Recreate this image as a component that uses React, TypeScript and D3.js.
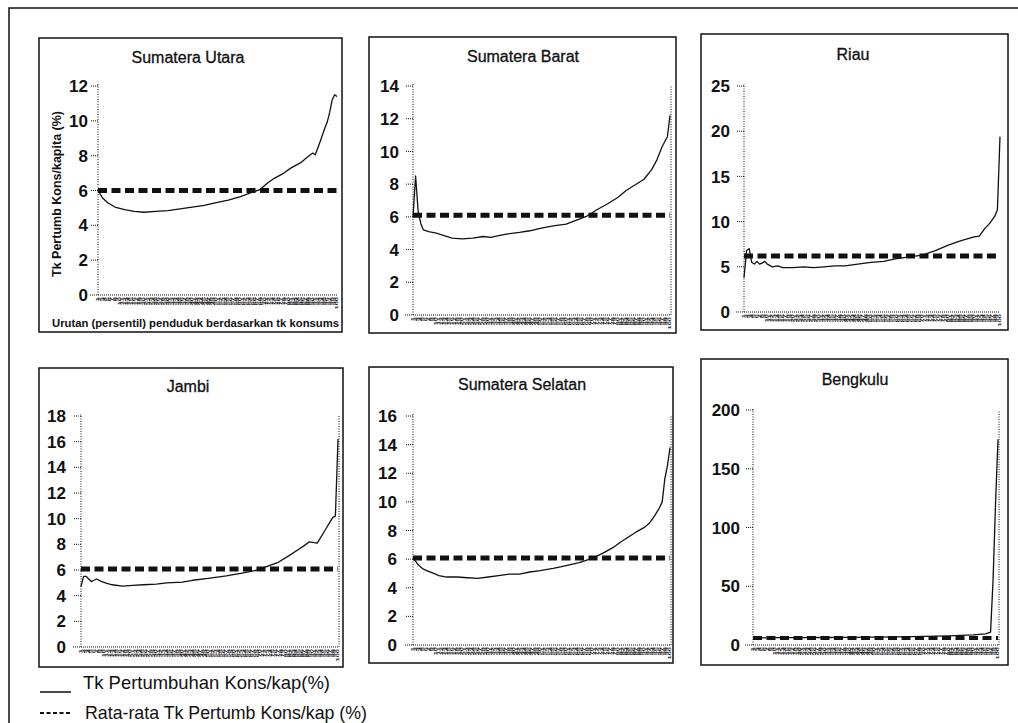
import React from "react"
import * as d3 from "d3"

// percentile categories on the x axis
const percentiles = d3.range(1, 101)

// Sumatera Utara
const sumutPct = [1, 3, 5, 8, 12, 16, 20, 25, 30, 35, 40, 45, 50, 55, 60, 65, 68, 71, 74, 78, 81, 85, 88, 90, 91, 93, 95, 96, 97, 98, 99, 100]
const sumutVal = [6.0, 5.55, 5.3, 5.05, 4.9, 4.8, 4.75, 4.8, 4.85, 4.95, 5.05, 5.15, 5.3, 5.45, 5.65, 5.9, 6.05, 6.4, 6.7, 7.0, 7.3, 7.6, 7.95, 8.15, 8.05, 8.8, 9.6, 9.95, 10.5, 11.2, 11.5, 11.4]
const sumutAvg = 6.0
const sumutTicks = [0, 2, 4, 6, 8, 10, 12]

// Sumatera Barat
const sumbarPct = [1, 2, 3, 4, 5, 7, 10, 13, 16, 20, 24, 28, 31, 34, 37, 42, 46, 50, 55, 60, 64, 68, 72, 76, 80, 83, 86, 90, 93, 95, 97, 99, 100]
const sumbarVal = [6.0, 8.5, 6.3, 5.6, 5.2, 5.1, 5.0, 4.85, 4.7, 4.65, 4.7, 4.8, 4.75, 4.85, 4.95, 5.05, 5.15, 5.3, 5.45, 5.55, 5.8, 6.05, 6.45, 6.8, 7.2, 7.6, 7.9, 8.3, 8.9, 9.5, 10.3, 10.9, 12.2]
const sumbarAvg = 6.1
const sumbarTicks = [0, 2, 4, 6, 8, 10, 12, 14]

// Riau
const riauPct = [1, 2, 3, 4, 5, 6, 7, 8, 9, 10, 12, 14, 16, 20, 24, 28, 32, 36, 40, 45, 50, 55, 60, 65, 70, 75, 80, 85, 90, 92, 94, 96, 98, 99, 100]
const riauVal = [3.8, 6.8, 7.0, 5.5, 5.3, 5.6, 5.3, 5.4, 5.6, 5.3, 5.0, 5.1, 4.9, 4.9, 5.0, 4.9, 5.0, 5.1, 5.1, 5.3, 5.5, 5.6, 5.9, 6.1, 6.3, 6.8, 7.4, 7.9, 8.3, 8.4, 9.2, 9.8, 10.6, 11.3, 19.4]
const riauAvg = 6.2
const riauTicks = [0, 5, 10, 15, 20, 25]

// Jambi
const jambiPct = [1, 2, 3, 4, 5, 6, 7, 9, 11, 13, 17, 21, 25, 30, 34, 40, 44, 50, 57, 63, 69, 73, 77, 81, 84, 87, 89, 92, 95, 98, 99, 100]
const jambiVal = [4.7, 5.5, 5.5, 5.3, 5.1, 5.2, 5.3, 5.1, 4.95, 4.85, 4.75, 4.8, 4.85, 4.9, 5.0, 5.05, 5.2, 5.35, 5.55, 5.75, 6.0, 6.3, 6.6, 7.1, 7.5, 7.9, 8.2, 8.1, 9.1, 10.1, 10.2, 16.2]
const jambiAvg = 6.08
const jambiTicks = [0, 2, 4, 6, 8, 10, 12, 14, 16, 18]

// Sumatera Selatan
const sumselPct = [1, 3, 5, 7, 9, 11, 14, 18, 22, 26, 30, 34, 38, 42, 46, 50, 55, 60, 65, 70, 74, 78, 81, 84, 87, 90, 92, 94, 96, 97, 98, 99, 100]
const sumselVal = [6.1, 5.6, 5.3, 5.15, 5.0, 4.85, 4.75, 4.75, 4.7, 4.65, 4.75, 4.85, 4.95, 4.95, 5.1, 5.2, 5.35, 5.55, 5.75, 6.05, 6.4, 6.8, 7.2, 7.55, 7.9, 8.2, 8.5, 9.0, 9.6, 10.0, 11.6, 12.5, 13.8]
const sumselAvg = 6.08
const sumselTicks = [0, 2, 4, 6, 8, 10, 12, 14, 16]

// Bengkulu
const bengkuluPct = [1, 10, 20, 30, 40, 50, 60, 70, 80, 90, 95, 97, 98, 99, 100]
const bengkuluVal = [6.0, 6.2, 6.3, 6.4, 6.5, 6.7, 7.0, 7.3, 7.8, 8.6, 9.5, 11, 55, 120, 175]
const bengkuluAvg = 6.0
const bengkuluTicks = [0, 50, 100, 150, 200]

const legendLabels = ["Tk Pertumbuhan Kons/kap(%)", "Rata-rata Tk Pertumb Kons/kap (%)"]

const font = "'Liberation Sans', Arial, Helvetica, sans-serif"
const ink = "#111"

type Panel = {
  title: string
  pct: number[]
  val: number[]
  avg: number
  ticks: number[]
  box: [number, number, number, number]
  plot: { x0: number; x1: number; yb: number; yt: number }
  titlePos: [number, number]
  gap: number
  rightRule: boolean
  dashW: number
}

const panels: Panel[] = [
  { title: "Sumatera Utara", pct: sumutPct, val: sumutVal, avg: sumutAvg, ticks: sumutTicks,
    box: [39, 38, 303, 294], plot: { x0: 98, x1: 337, yb: 295, yt: 86 }, titlePos: [188, 63], gap: 10, rightRule: false, dashW: 5 },
  { title: "Sumatera Barat", pct: sumbarPct, val: sumbarVal, avg: sumbarAvg, ticks: sumbarTicks,
    box: [369, 37, 307, 296], plot: { x0: 413, x1: 670, yb: 315, yt: 86 }, titlePos: [523, 62], gap: 14, rightRule: true, dashW: 5 },
  { title: "Riau", pct: riauPct, val: riauVal, avg: riauAvg, ticks: riauTicks,
    box: [701, 34, 307, 296], plot: { x0: 744, x1: 1000, yb: 312, yt: 86 }, titlePos: [853, 60], gap: 14, rightRule: false, dashW: 5 },
  { title: "Jambi", pct: jambiPct, val: jambiVal, avg: jambiAvg, ticks: jambiTicks,
    box: [39, 368, 304, 299], plot: { x0: 81, x1: 338, yb: 647, yt: 416 }, titlePos: [188, 392], gap: 15, rightRule: true, dashW: 5 },
  { title: "Sumatera Selatan", pct: sumselPct, val: sumselVal, avg: sumselAvg, ticks: sumselTicks,
    box: [369, 367, 304, 296], plot: { x0: 413, x1: 670, yb: 645, yt: 416 }, titlePos: [522, 390], gap: 16, rightRule: true, dashW: 5 },
  { title: "Bengkulu", pct: bengkuluPct, val: bengkuluVal, avg: bengkuluAvg, ticks: bengkuluTicks,
    box: [701, 359, 307, 306], plot: { x0: 753, x1: 998, yb: 645, yt: 410 }, titlePos: [855, 385], gap: 13, rightRule: true, dashW: 4 },
]

function SmallChart({ p }: { p: Panel }) {
  const { x0, x1, yb, yt } = p.plot
  const x = d3.scaleLinear().domain([1, 100]).range([x0, x1])
  const y = d3.scaleLinear().domain([0, p.ticks[p.ticks.length - 1]]).range([yb, yt])
  const pts: [number, number][] = p.pct.map((c, i) => [c, p.val[i]])
  const line = d3.line<[number, number]>().x(d => x(d[0])).y(d => y(d[1]))
  const avgLine = d3.line<number>().x(d => x(d)).y(() => y(p.avg))
  const [bx, by, bw, bh] = p.box
  return (
    <g>
      <rect x={bx} y={by} width={bw} height={bh} fill="none" stroke={ink} strokeWidth={1.5} />
      <text x={p.titlePos[0]} y={p.titlePos[1]} textAnchor="middle" fontSize={16} fill={ink} stroke={ink} strokeWidth={0.3}>{p.title}</text>
      {/* y axis */}
      <line x1={x0} x2={x0} y1={yb} y2={yt - 2} stroke={ink} strokeWidth={1} strokeDasharray="1,1.5" />
      {p.rightRule && <line x1={x1 + 1} x2={x1 + 1} y1={yb} y2={yt} stroke={ink} strokeWidth={1} strokeDasharray="1,1.5" />}
      {p.ticks.map(t => (
        <g key={t}>
          {t > 0 && <line x1={x0 - 7} x2={x0} y1={y(t)} y2={y(t)} stroke={ink} strokeWidth={1} strokeDasharray="1,1" />}
          <text x={x0 - p.gap} y={y(t)} dy="0.36em" textAnchor="end" fontSize={17} fontWeight="bold" fill={ink}>{t}</text>
        </g>
      ))}
      {/* x axis */}
      <line x1={x0 - 8} x2={x1} y1={yb} y2={yb} stroke={ink} strokeWidth={1} strokeDasharray="1,1" />
      {percentiles.map(c => (
        <text key={c} transform={`translate(${x(c) + 1},${yb + 2}) rotate(-90) scale(1,0.4)`} textAnchor="end"
          fontSize={7.5} fontWeight="bold" fill="#222">{c}</text>
      ))}
      {/* average */}
      <path d={avgLine([1, 100]) || ""} fill="none" stroke={ink} strokeWidth={p.dashW} strokeDasharray="9,4.5" />
      {/* growth line */}
      <path d={line(pts) || ""} fill="none" stroke={ink} strokeWidth={1.3} strokeLinejoin="round" />
    </g>
  )
}

export default function App() {
  return (
    <svg width={1018} height={723} style={{ position: "absolute", left: 0, top: 0, background: "#fff" }} fontFamily={font}>
      <rect x={9} y={8} width={1030} height={740} fill="none" stroke={ink} strokeWidth={1.5} />
      {panels.map(p => <SmallChart key={p.title} p={p} />)}
      <text transform="translate(61,194) rotate(-90)" textAnchor="middle" fontSize={12.5} fontWeight="bold" fill={ink}
        textLength={166} lengthAdjust="spacingAndGlyphs">Tk Pertumb Kons/kapita (%)</text>
      <text x={52} y={327} fontSize={11} fontWeight="bold" fill={ink} textLength={287} lengthAdjust="spacingAndGlyphs">
        Urutan (persentil) penduduk berdasarkan tk konsums
      </text>
      {/* legend */}
      <line x1={40} x2={71} y1={692} y2={692} stroke={ink} strokeWidth={1.5} />
      <text x={83} y={689} fontSize={19} fill={ink} textLength={247} lengthAdjust="spacingAndGlyphs">{legendLabels[0]}</text>
      <line x1={40} x2={71} y1={713} y2={713} stroke={ink} strokeWidth={2} strokeDasharray="4,2.5" />
      <text x={85} y={719} fontSize={19} fill={ink} textLength={282} lengthAdjust="spacingAndGlyphs">{legendLabels[1]}</text>
    </svg>
  )
}
